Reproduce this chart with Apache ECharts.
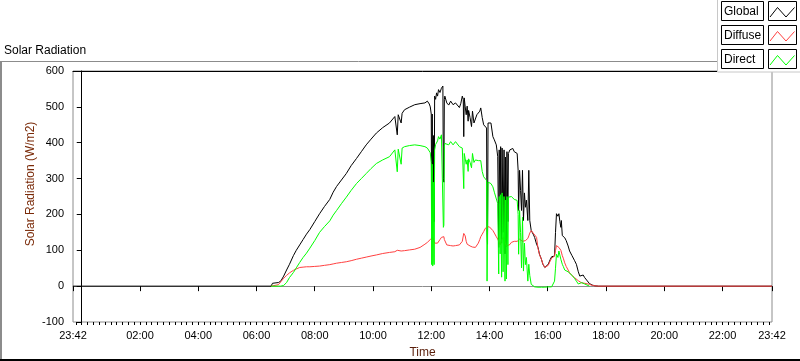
<!DOCTYPE html>
<html>
<head>
<meta charset="utf-8">
<title>Solar Radiation</title>
<script src="https://cdn.jsdelivr.net/npm/echarts@6.0.0/dist/echarts.min.js"></script>
<style>
  html, body { margin: 0; padding: 0; background: #fff; }
  #chart { width: 800px; height: 361px; }
</style>
</head>
<body>
<div id="chart"></div>
<script>
const FONT = 'Liberation Sans';

const seriesNames = ['Global', 'Diffuse', 'Direct'];
const seriesColors = ['#000000', '#ff4040', '#00ff00'];

// minutes from midnight (23:42 of the day before = -18)
const times = [
  -18, 390, 393, 405, 410, 416, 422, 428, 436, 442,
  449, 456, 463, 470, 480, 490, 500, 511, 518, 525,
  535, 545, 555, 566, 576, 586, 596, 607, 620, 634,
  645, 648, 650, 652, 658, 660, 665, 675, 686, 697,
  707, 712, 716, 718, 720, 721, 722, 723, 724, 725,
  726, 727, 729, 731, 733, 735, 738, 741, 744, 745,
  746, 747, 748, 752, 756, 760, 765, 770, 774, 778,
  781, 784, 786, 787, 788, 790, 792, 794, 796, 797,
  800, 803, 805, 808, 811, 814, 817, 820, 822, 825,
  828, 831, 834, 835, 836, 837, 840, 843, 847, 850,
  854, 857, 859, 860, 862, 863, 865, 866, 868, 870,
  872, 873, 875, 876, 878, 879, 882, 885, 888, 891,
  894, 897, 899, 900, 902, 904, 906, 908, 910, 912,
  914, 916, 919, 921, 923, 926, 930, 933, 937, 940,
  943, 947, 950, 954, 958, 961, 965, 968, 971, 974,
  976, 978, 981, 983, 985, 987, 988, 990, 992, 995,
  998, 1002, 1005, 1010, 1015, 1019, 1023, 1026, 1030, 1033,
  1036, 1040, 1046, 1052, 1057, 1065, 1422,
];

const globalVals = [
  0, 0, 8, 10, 14, 28, 45, 61, 85, 100,
  115, 130, 145, 158, 180, 202, 222, 242, 262, 278,
  296, 314, 336, 356, 375, 394, 410, 427, 442, 455,
  473, 475, 422, 478, 455, 482, 492, 499, 506, 509,
  511, 516, 508, 500, 480, 175, 480, 200, 190, 420,
  180, 530, 521, 539, 530, 548, 540, 552, 558, 300,
  290, 520, 530, 511, 505, 516, 506, 511, 508, 498,
  510, 530, 520, 417, 525, 500, 478, 502, 460, 490,
  470, 445, 488, 455, 460, 478, 478, 488, 497, 470,
  450, 445, 441, 150, 117, 455, 458, 455, 417, 408,
  394, 361, 108, 380, 230, 389, 120, 385, 150, 380,
  90, 360, 110, 375, 180, 370, 380, 384, 384, 375,
  370, 370, 323, 211, 323, 267, 211, 323, 183, 260,
  220, 240, 183, 323, 183, 155, 145, 136, 117, 108,
  89, 75, 61, 52, 53, 61, 74, 82, 84, 84,
  150, 202, 195, 202, 180, 164, 183, 141, 145, 135,
  127, 112, 98, 85, 72, 61, 40, 28, 30, 31,
  24, 19, 7, 3, 1, 0, 0,
];

const diffuseVals = [
  null, 0, 0, 4, 12, 22, 30, 37, 44, 48,
  52, 53, 54, 54, 55, 56, 58, 60, 62, 64,
  66, 68, 71, 75, 78, 81, 84, 87, 91, 94,
  96, 97, 100, 97, 98, 98, 99, 101, 103, 108,
  117, 122, 127, 130, 131, 134, 133, 136, 132, 128,
  125, 120, 118, 117, 120, 125, 130, 136, 141, 140,
  138, 130, 125, 115, 113, 113, 112, 113, 113, 115,
  118, 125, 140, 147, 145, 140, 125, 117, 115, 114,
  112, 110, 109, 108, 108, 112, 120, 130, 138, 145,
  152, 160, 164, 166, 167, 167, 165, 160, 155, 148,
  138, 131, 125, 122, 115, 120, 128, 133, 136, 130,
  122, 118, 112, 110, 108, 110, 116, 122, 127, 125,
  122, 125, 128, 130, 131, 129, 127, 125, 125, 126,
  127, 127, 133, 140, 148, 155, 148, 150, 136, 105,
  88, 75, 62, 52, 50, 58, 70, 78, 82, 84,
  100, 113, 112, 108, 103, 100, 98, 85, 78, 65,
  55, 45, 37, 30, 24, 20, 15, 10, 9, 9,
  8, 7, 5, 2, 1, 0, 0,
];

const directVals = [
  null, 0, 0, 0, 0, 2, 10, 24, 38, 51,
  66, 80, 92, 106, 127, 150, 166, 182, 198, 211,
  230, 248, 267, 286, 300, 314, 328, 342, 352, 361,
  380, 380, 319, 382, 340, 385, 389, 392, 394, 392,
  389, 385, 380, 372, 345, 60, 340, 56, 70, 290,
  60, 380, 395, 394, 405, 417, 410, 422, 417, 164,
  170, 390, 398, 395, 394, 403, 394, 403, 400, 389,
  389, 385, 380, 272, 370, 355, 340, 352, 320, 355,
  345, 330, 370, 345, 352, 347, 350, 355, 350, 320,
  305, 300, 295, 14, 14, 290, 290, 286, 277, 262,
  258, 230, 34, 250, 90, 255, 25, 260, 40, 250,
  14, 240, 20, 250, 60, 248, 248, 250, 245, 242,
  240, 239, 200, 89, 211, 150, 51, 192, 42, 120,
  60, 80, 14, 61, 30, 5, 0, -2, -3, -3,
  -3, -3, -3, -3, -3, -2, -2, -2, 0, 14,
  50, 89, 80, 98, 95, 75, 80, 61, 55, 45,
  42, 40, 37, 30, 22, 14, 6, 3, 10, 14,
  6, 3, 0, null, null, null, null,
];

// x axis: labelled ticks, all major ticks, minor ticks (minutes)
const xMin = -18;
const xMax = 1422;
const xLabelTicks = [-18, 120, 240, 360, 480, 600, 720, 840, 960, 1080, 1200, 1320, 1422];
const xMajorTicks = [-18, 0, 120, 240, 360, 480, 600, 720, 840, 960, 1080, 1200, 1320, 1422];
const xMinorStep = 12;

function fmtTime(v) {
  const m = ((Math.round(v) % 1440) + 1440) % 1440;
  const h = Math.floor(m / 60);
  const mm = m % 60;
  return String(h).padStart(2, '0') + ':' + String(mm).padStart(2, '0');
}

function pairs(vals) {
  return times.map((t, i) => [t, vals[i]]);
}

const minorTicks = [];
for (let t = -12; t < xMax; t += xMinorStep) minorTicks.push(t);

function legendGraphics() {
  const items = [
    {
      type: 'rect', z: 100,
      shape: { x: 717.5, y: -1, width: 84, height: 73 },
      style: { fill: '#ffffff', stroke: '#c8c8c8', lineWidth: 1 },
    },
  ];
  seriesNames.forEach((name, i) => {
    const top = 1.5 + i * 24;
    items.push({
      type: 'rect', z: 101,
      shape: { x: 721.5, y: top, width: 42, height: 19 },
      style: { fill: '#ffffff', stroke: '#000000', lineWidth: 1 },
    });
    items.push({
      type: 'text', z: 102, x: 724, y: top + 10,
      style: { text: name, fill: '#000', font: '12px "' + FONT + '"', textAlign: 'left', textVerticalAlign: 'middle' },
    });
    items.push({
      type: 'rect', z: 101,
      shape: { x: 768.5, y: top, width: 28, height: 19 },
      style: { fill: '#ffffff', stroke: '#000000', lineWidth: 1 },
    });
    items.push({
      type: 'polyline', z: 102,
      shape: { points: [[770, top + 15.5], [777.5, top + 6], [786, top + 15.5], [794.5, top + 6]] },
      style: { stroke: seriesColors[i], lineWidth: 1, fill: null },
    });
  });
  return items;
}

const chart = echarts.init(document.getElementById('chart'));

chart.setOption({
  animation: false,
  backgroundColor: '#ffffff',
  textStyle: { fontFamily: FONT },
  title: {
    text: 'Solar Radiation',
    left: 4, top: 45, padding: 0,
    textStyle: { fontSize: 12, fontWeight: 'normal', color: '#000', fontFamily: FONT },
  },
  grid: {
    left: 73, right: 28, top: 71, bottom: 39,
    outerBoundsMode: 'none',
    containLabel: false,
    show: true, borderColor: '#8c8c8c', borderWidth: 1, backgroundColor: 'transparent',
  },
  xAxis: [
    {
      type: 'value', min: xMin, max: xMax, position: 'bottom',
      name: 'Time', nameLocation: 'middle', nameGap: 25,
      nameTextStyle: { fontSize: 12, color: '#5a1e0a', fontFamily: FONT },
      axisLine: { show: true, lineStyle: { color: '#8c8c8c', width: 1 } },
      axisTick: { show: true, length: 5, customValues: xMajorTicks, lineStyle: { color: '#000' } },
      axisLabel: {
        show: true, customValues: xLabelTicks, margin: 8,
        fontSize: 11, color: '#000', fontFamily: FONT,
        formatter: fmtTime,
      },
      splitLine: { show: false },
    },
    {
      type: 'value', min: xMin, max: xMax, position: 'bottom',
      axisLine: { show: false },
      axisTick: { show: true, length: 3, customValues: minorTicks, lineStyle: { color: '#000' } },
      axisLabel: { show: false },
      splitLine: { show: false },
    },
    {
      type: 'value', min: xMin, max: xMax, position: 'top',
      axisLine: { show: true, lineStyle: { color: '#000', width: 1 } },
      axisTick: { show: false },
      axisLabel: { show: false },
      splitLine: { show: false },
    },
  ],
  yAxis: {
    type: 'value', min: -100, max: 600, interval: 100,
    axisLine: { show: true, lineStyle: { color: '#000', width: 1 } },
    axisTick: { show: true, length: 5, lineStyle: { color: '#000' } },
    axisLabel: { margin: 9, fontSize: 11, color: '#000', fontFamily: FONT },
    splitLine: { show: false },
  },
  graphic: [
    {
      type: 'text', x: 30.5, y: 184, rotation: Math.PI / 2,
      style: {
        text: 'Solar Radiation (W/m2)', fill: '#7a2a08',
        font: '12px "' + FONT + '"', textAlign: 'center', textVerticalAlign: 'middle',
      },
    },
    { type: 'line', z: 1, shape: { x1: 0, y1: 61.5, x2: 717, y2: 61.5 }, style: { stroke: '#8c8c8c', lineWidth: 1 } },
    { type: 'line', z: 1, shape: { x1: 1, y1: 61, x2: 1, y2: 361 }, style: { stroke: '#8c8c8c', lineWidth: 2 } },
    { type: 'line', z: 1, shape: { x1: 0, y1: 360, x2: 800, y2: 360 }, style: { stroke: '#000', lineWidth: 2 } },
    ...legendGraphics(),
  ],
  series: seriesNames.map((name, i) => ({
    name,
    type: 'line',
    xAxisIndex: 0,
    yAxisIndex: 0,
    data: pairs([globalVals, diffuseVals, directVals][i]),
    showSymbol: false,
    connectNulls: false,
    lineStyle: { color: seriesColors[i], width: 1 },
    itemStyle: { color: seriesColors[i] },
  })),
});
</script>
</body>
</html>
